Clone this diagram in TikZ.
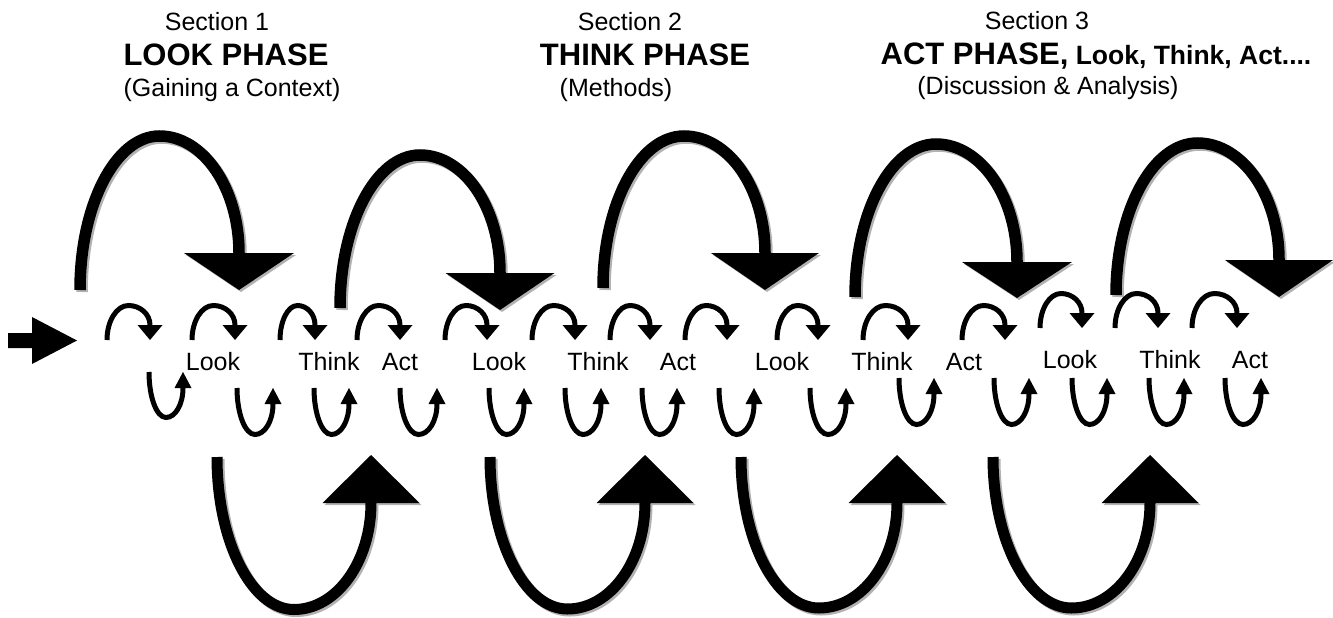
\documentclass[tikz,border=0pt]{standalone}
\usepackage{fontspec}
\setmainfont{Liberation Sans}
\newcommand\ArchArrow[8]{% #1 xL, #2 footY, #3 peakY, #4 xR, #5 head base Y, #6 head half width, #7 tipY, #8 line width
  \pgfmathsetmacro\aaxm{(#1+#4)/2}%
  \pgfmathsetmacro\aacl{#2-0.552*(#2-#3)}%
  \pgfmathsetmacro\aacr{#5-0.552*(#5-#3)}%
  \pgfmathsetmacro\aahl{\aaxm-0.552*(\aaxm-#1)}%
  \pgfmathsetmacro\aahr{\aaxm+0.552*(#4-\aaxm)}%
  \pgfmathsetmacro\aaha{#4-#6}%
  \pgfmathsetmacro\aahb{#4+#6}%
  \draw[line width=#8] (#1,#2) .. controls (#1,\aacl) and (\aahl,#3) .. (\aaxm,#3)
     .. controls (\aahr,#3) and (#4,\aacr) .. (#4,#5);
  \fill (\aaha,#5) -- (\aahb,#5) -- (#4,#7) -- cycle;
}
\newcommand\ShArrow[8]{%
  \begin{scope}[shift={(2,2)},black!30]\ArchArrow{#1}{#2}{#3}{#4}{#5}{#6}{#7}{#8}\end{scope}
  \ArchArrow{#1}{#2}{#3}{#4}{#5}{#6}{#7}{#8}}
\begin{document}
\begin{tikzpicture}[x=1pt,y=-1pt,
  hdr/.style={font=\fontsize{25}{30}\selectfont, anchor=base, inner sep=0pt},
  phase/.style={font=\fontsize{31}{36}\selectfont\bfseries, anchor=base, inner sep=0pt},
  lbl/.style={font=\fontsize{25}{30}\selectfont, anchor=base, inner sep=0pt}]
\useasboundingbox[fill=white] (0,0) rectangle (1333,618);

% headers
\node[hdr]   (s1) at (217,31) {Section 1};
\node[phase] (p1) at (226,66) {LOOK PHASE};
\node[hdr]   (g1) at (232,96) {(Gaining a Context)};
\node[hdr]   (s2) at (630,31) {Section 2};
\node[phase] (p2) at (645,66) {THINK PHASE};
\node[hdr]   (g2) at (616,96) {(Methods)};
\node[hdr]   (s3) at (1037,30) {Section 3};
\node[phase] (p3) at (1096,65) {ACT PHASE,{\fontsize{26.5}{30}\selectfont\ Look, Think, Act....}};
\node[hdr]   (g3) at (1048,94) {(Discussion \& Analysis)};

% entry arrow
\fill (8,333) -- (32,333) -- (32,317) -- (77,340.5) -- (32,364) -- (32,348) -- (8,348) -- cycle;

% big top arches
\ShArrow{80}{290}{136}{239}{253}{55}{290}{11.5}
\ShArrow{340}{308}{155}{500}{273}{54.5}{310}{11.5}
\ShArrow{603}{288}{136}{765}{253}{54}{290}{11.5}
\ShArrow{855}{297}{144}{1017}{262}{55}{298}{11.5}
\ShArrow{1116}{295}{143}{1279}{260}{54}{297}{11.5}

% big bottom loops
\ShArrow{217}{457}{609.5}{371}{503}{48.5}{455}{11}
\ShArrow{490}{457}{609}{645}{503}{48.5}{455}{11}
\ShArrow{741}{457}{608}{897}{503}{48.5}{455}{11}
\ShArrow{993}{457}{608}{1150}{503}{48.5}{455}{11}

% small top arches
\foreach \a/\b in {107/150,192/235,280/315,357/400,445/487,532/575,610/650,685/727,777/818,863/908,962/1005}
  {\ArchArrow{\a}{340}{305.5}{\b}{325}{12.5}{340}{5}}
\foreach \a/\b in {1040/1082,1115/1158,1192/1237}
  {\ArchArrow{\a}{328}{293.5}{\b}{313}{12.5}{328}{5}}

% small bottom loops
\ArchArrow{149}{372}{417.5}{183}{388}{8.5}{372}{5}
\foreach \a/\b in {237/273,314/349,400/437,489/524,565/601,642/677,719/754,810/846}
  {\ArchArrow{\a}{388}{434.5}{\b}{404}{8.5}{388}{5}}
\foreach \a/\b in {899/934,994/1029,1072/1107,1149/1184,1225/1261}
  {\ArchArrow{\a}{378}{424.5}{\b}{394}{8.5}{378}{5}}

% labels
\node[lbl] (l1) at (213,370) {Look};
\node[lbl] (t1) at (329,370) {Think};
\node[lbl] (c1) at (400,370) {Act};
\node[lbl] (l2) at (499,370) {Look};
\node[lbl] (t2) at (598,370) {Think};
\node[lbl] (c2) at (678,370) {Act};
\node[lbl] (l3) at (782,370) {Look};
\node[lbl] (t3) at (882,370) {Think};
\node[lbl] (c3) at (964,370) {Act};
\node[lbl] (l4) at (1070,368) {Look};
\node[lbl] (t4) at (1170,368) {Think};
\node[lbl] (c4) at (1250,368) {Act};
\end{tikzpicture}
\end{document}
